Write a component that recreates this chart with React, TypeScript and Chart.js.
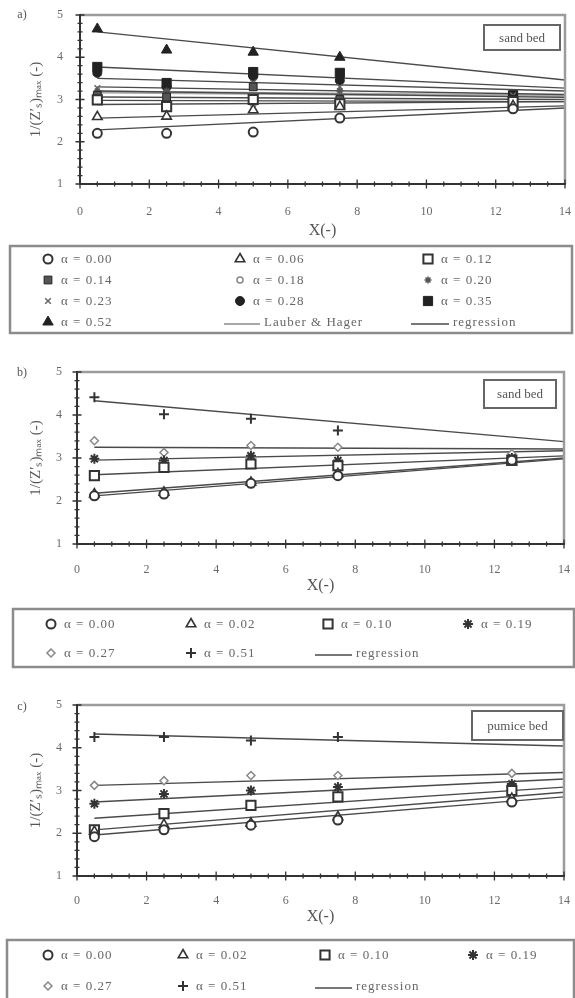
import React, { useEffect, useRef } from 'react';
import { Chart, registerables } from 'chart.js';

Chart.register(...registerables);

const FONT = '"Liberation Serif", "Times New Roman", serif';

// ---------- data ----------
const X_POS = [0.5, 2.5, 5, 7.5, 12.5];
const X_REG = [0.5, 14];
const X_MIN = 0;
const X_MAX = 14;
const Y_MIN = 1;
const Y_MAX = 5;

// panel a) sand bed
const A_ALPHA = ['0.00', '0.06', '0.12', '0.14', '0.18', '0.20', '0.23', '0.28', '0.35', '0.52'];
const A_P000 = [2.2, 2.2, 2.23, 2.56, 2.78];
const A_P006 = [2.59, 2.6, 2.75, 2.83, 2.85];
const A_P012 = [2.99, 2.83, 3.0, 2.9, 2.95];
const A_P014 = [3.1, 3.06, 3.3, 3.0, 3.0];
const A_P018 = [3.05, 2.95, 2.9, 3.0, 2.9];
const A_P020 = [3.2, 3.2, 3.3, 3.2, 3.05];
const A_P023 = [3.27, 3.15, 3.4, 3.3, 3.1];
const A_P028 = [3.63, 3.3, 3.55, 3.45, 3.05];
const A_P035 = [3.77, 3.39, 3.65, 3.63, 3.1];
const A_P052 = [4.67, 4.17, 4.12, 4.0, null];
const A_R000 = [2.28, 2.8];
const A_R006 = [2.56, 2.85];
const A_R012 = [2.88, 2.95];
const A_R014 = [2.98, 2.95];
const A_R018 = [3.06, 3.0];
const A_R020 = [3.2, 3.05];
const A_R023 = [3.3, 3.12];
const A_R028 = [3.5, 3.2];
const A_R035 = [3.77, 3.27];
const A_R052 = [4.6, 3.46];
const A_LAUBER = [3.18, 3.08];

// panel b) sand bed
const B_ALPHA = ['0.00', '0.02', '0.10', '0.19', '0.27', '0.51'];
const B_P000 = [2.12, 2.16, 2.41, 2.59, 2.95];
const B_P002 = [2.16, 2.2, 2.43, 2.63, 2.9];
const B_P010 = [2.59, 2.78, 2.86, 2.82, 2.95];
const B_P019 = [2.98, 2.94, 3.05, 2.94, 3.0];
const B_P027 = [3.4, 3.13, 3.29, 3.25, 3.1];
const B_P051 = [4.41, 4.02, 3.91, 3.64, null];
const B_R000 = [2.12, 2.98];
const B_R002 = [2.18, 3.0];
const B_R010 = [2.61, 3.05];
const B_R019 = [2.95, 3.17];
const B_R027 = [3.25, 3.21];
const B_R051 = [4.33, 3.38];

// panel c) pumice bed
const C_ALPHA = ['0.00', '0.02', '0.10', '0.19', '0.27', '0.51'];
const C_P000 = [1.92, 2.08, 2.19, 2.31, 2.73];
const C_P002 = [2.04, 2.2, 2.23, 2.38, 2.81];
const C_P010 = [2.08, 2.46, 2.65, 2.85, 3.0];
const C_P019 = [2.69, 2.92, 3.0, 3.08, 3.15];
const C_P027 = [3.12, 3.23, 3.35, 3.35, 3.4];
const C_P051 = [4.25, 4.25, 4.17, 4.25, null];
const C_R000 = [1.96, 2.85];
const C_R002 = [2.08, 2.96];
const C_R010 = [2.35, 3.08];
const C_R019 = [2.73, 3.27];
const C_R027 = [3.12, 3.42];
const C_R051 = [4.32, 4.04];

// ---------- styles ----------
type Marker = { style: string; r: number; bg: string; bc: string; bw: number };
const MK: Record<string, Marker> = {
  openCircle: { style: 'circle', r: 4.5, bg: '#fff', bc: '#333', bw: 2 },
  openTriangle: { style: 'triangle', r: 5.5, bg: '#fff', bc: '#333', bw: 1.6 },
  openSquare: { style: 'rect', r: 6.5, bg: '#fff', bc: '#333', bw: 2 },
  barSquare: { style: 'rect', r: 5.5, bg: '#555', bc: '#222', bw: 1 },
  smallCircle: { style: 'circle', r: 3, bg: '#fff', bc: '#888', bw: 1.5 },
  smallStar: { style: 'star', r: 3.5, bg: '#555', bc: '#555', bw: 1.5 },
  xCross: { style: 'crossRot', r: 4, bg: '#666', bc: '#666', bw: 1.5 },
  fullCircle: { style: 'circle', r: 4.5, bg: '#222', bc: '#222', bw: 1 },
  fullSquare: { style: 'rect', r: 6.5, bg: '#222', bc: '#222', bw: 1 },
  fullTriangle: { style: 'triangle', r: 6, bg: '#222', bc: '#222', bw: 1 },
  boldStar: { style: 'star', r: 5, bg: '#333', bc: '#333', bw: 2 },
  diamond: { style: 'rectRot', r: 4, bg: '#fff', bc: '#888', bw: 1.5 },
  plus: { style: 'cross', r: 5, bg: '#333', bc: '#333', bw: 2 },
};

type Series = { alpha: string; pts: (number | null)[]; reg: number[]; mk: Marker };
type LegendItem =
  | { kind: 'marker'; mk: Marker; x: number; y: number; text: string }
  | { kind: 'line'; color: string; width: number; x1: number; x2: number; y: number; text: string };

type PanelCfg = {
  top: number;
  height: number;
  padTop: number;
  padRight: number;
  padBottom: number;
  yWidth: number;
  yTickPad: number;
  xTickPad: number;
  xTitlePad: number;
  letter: string;
  letterPos: [number, number];
  bed: string;
  bedBox: [number, number, number, number];
  series: Series[];
  extraLine?: { label: string; vals: number[]; color: string; width: number };
  legendBox: [number, number, number, number];
  legend: LegendItem[];
};

const alphaText = (a: string) => 'α = ' + a;

const A_SERIES: Series[] = [
  { alpha: A_ALPHA[0], pts: A_P000, reg: A_R000, mk: MK.openCircle },
  { alpha: A_ALPHA[1], pts: A_P006, reg: A_R006, mk: MK.openTriangle },
  { alpha: A_ALPHA[2], pts: A_P012, reg: A_R012, mk: MK.openSquare },
  { alpha: A_ALPHA[3], pts: A_P014, reg: A_R014, mk: MK.barSquare },
  { alpha: A_ALPHA[4], pts: A_P018, reg: A_R018, mk: MK.smallCircle },
  { alpha: A_ALPHA[5], pts: A_P020, reg: A_R020, mk: MK.smallStar },
  { alpha: A_ALPHA[6], pts: A_P023, reg: A_R023, mk: MK.xCross },
  { alpha: A_ALPHA[7], pts: A_P028, reg: A_R028, mk: MK.fullCircle },
  { alpha: A_ALPHA[8], pts: A_P035, reg: A_R035, mk: MK.fullSquare },
  { alpha: A_ALPHA[9], pts: A_P052, reg: A_R052, mk: MK.fullTriangle },
];

const B_SERIES: Series[] = [
  { alpha: B_ALPHA[0], pts: B_P000, reg: B_R000, mk: MK.openCircle },
  { alpha: B_ALPHA[1], pts: B_P002, reg: B_R002, mk: MK.openTriangle },
  { alpha: B_ALPHA[2], pts: B_P010, reg: B_R010, mk: MK.openSquare },
  { alpha: B_ALPHA[3], pts: B_P019, reg: B_R019, mk: MK.boldStar },
  { alpha: B_ALPHA[4], pts: B_P027, reg: B_R027, mk: MK.diamond },
  { alpha: B_ALPHA[5], pts: B_P051, reg: B_R051, mk: MK.plus },
];

const C_SERIES: Series[] = [
  { alpha: C_ALPHA[0], pts: C_P000, reg: C_R000, mk: MK.openCircle },
  { alpha: C_ALPHA[1], pts: C_P002, reg: C_R002, mk: MK.openTriangle },
  { alpha: C_ALPHA[2], pts: C_P010, reg: C_R010, mk: MK.openSquare },
  { alpha: C_ALPHA[3], pts: C_P019, reg: C_R019, mk: MK.boldStar },
  { alpha: C_ALPHA[4], pts: C_P027, reg: C_R027, mk: MK.diamond },
  { alpha: C_ALPHA[5], pts: C_P051, reg: C_R051, mk: MK.plus },
];

const REG_COLOR = '#4a4a4a';
const LAUBER_COLOR = '#a8a8a8';

function gridLegend(series: Series[], cols: number[], rows: number[], lines: { text: string; color: string; width: number; x1: number; x2: number; slot: number }[]): LegendItem[] {
  const items: LegendItem[] = [];
  series.forEach((s, i) => {
    const c = i % cols.length;
    const r = Math.floor(i / cols.length);
    items.push({ kind: 'marker', mk: s.mk, x: cols[c], y: rows[r], text: alphaText(s.alpha) });
  });
  lines.forEach((l) => {
    const r = Math.floor(l.slot / cols.length);
    items.push({ kind: 'line', color: l.color, width: l.width, x1: l.x1, x2: l.x2, y: rows[r], text: l.text });
  });
  return items;
}

const PANELS: PanelCfg[] = [
  {
    top: 0, height: 340, padTop: 15, padRight: 10, padBottom: 96, yWidth: 80, yTickPad: 17, xTickPad: 21, xTitlePad: 4,
    letter: 'a)', letterPos: [22, 15], bed: 'sand bed', bedBox: [484, 25, 560, 50],
    series: A_SERIES,
    extraLine: { label: 'Lauber & Hager', vals: A_LAUBER, color: LAUBER_COLOR, width: 3 },
    legendBox: [10, 246, 572, 333],
    legend: gridLegend(A_SERIES, [48, 240, 428], [259, 280, 301, 322], [
      { text: 'Lauber & Hager', color: LAUBER_COLOR, width: 2, x1: 224, x2: 260, slot: 10 },
      { text: 'regression', color: REG_COLOR, width: 1.5, x1: 411, x2: 449, slot: 11 },
    ]),
  },
  {
    top: 340, height: 330, padTop: 32, padRight: 11, padBottom: 66, yWidth: 77, yTickPad: 15, xTickPad: 19, xTitlePad: 9,
    letter: 'b)', letterPos: [22, 33], bed: 'sand bed', bedBox: [484, 40, 556, 68],
    series: B_SERIES,
    legendBox: [13, 269, 574, 327],
    legend: gridLegend(B_SERIES, [51, 191, 328, 468], [284, 313], [
      { text: 'regression', color: REG_COLOR, width: 1.5, x1: 315, x2: 352, slot: 6 },
    ]),
  },
  {
    top: 670, height: 328, padTop: 35, padRight: 11, padBottom: 62, yWidth: 77, yTickPad: 15, xTickPad: 18, xTitlePad: 10,
    letter: 'c)', letterPos: [22, 37], bed: 'pumice bed', bedBox: [472, 41, 563, 70],
    series: C_SERIES,
    legendBox: [7, 270, 574, 340],
    legend: gridLegend(C_SERIES, [48, 183, 325, 473], [285, 316], [
      { text: 'regression', color: REG_COLOR, width: 1.5, x1: 315, x2: 352, slot: 6 },
    ]),
  },
];

// ---------- drawing helpers ----------
function drawMarker(ctx: CanvasRenderingContext2D, mk: Marker, x: number, y: number) {
  const r = mk.r;
  ctx.save();
  ctx.fillStyle = mk.bg;
  ctx.strokeStyle = mk.bc;
  ctx.lineWidth = mk.bw;
  ctx.beginPath();
  switch (mk.style) {
    case 'circle':
      ctx.arc(x, y, r, 0, Math.PI * 2);
      ctx.closePath();
      ctx.fill();
      ctx.stroke();
      break;
    case 'triangle':
      ctx.moveTo(x, y - r);
      ctx.lineTo(x + Math.sin((2 * Math.PI) / 3) * r, y + 0.5 * r);
      ctx.lineTo(x - Math.sin((2 * Math.PI) / 3) * r, y + 0.5 * r);
      ctx.closePath();
      ctx.fill();
      ctx.stroke();
      break;
    case 'rect': {
      const s = Math.SQRT1_2 * r;
      ctx.rect(x - s, y - s, 2 * s, 2 * s);
      ctx.fill();
      ctx.stroke();
      break;
    }
    case 'rectRot':
      ctx.moveTo(x, y - r);
      ctx.lineTo(x + r, y);
      ctx.lineTo(x, y + r);
      ctx.lineTo(x - r, y);
      ctx.closePath();
      ctx.fill();
      ctx.stroke();
      break;
    case 'cross':
      ctx.moveTo(x - r, y);
      ctx.lineTo(x + r, y);
      ctx.moveTo(x, y - r);
      ctx.lineTo(x, y + r);
      ctx.stroke();
      break;
    case 'crossRot': {
      const d = Math.SQRT1_2 * r;
      ctx.moveTo(x - d, y - d);
      ctx.lineTo(x + d, y + d);
      ctx.moveTo(x - d, y + d);
      ctx.lineTo(x + d, y - d);
      ctx.stroke();
      break;
    }
    case 'star': {
      const d = Math.SQRT1_2 * r;
      ctx.moveTo(x - r, y);
      ctx.lineTo(x + r, y);
      ctx.moveTo(x, y - r);
      ctx.lineTo(x, y + r);
      ctx.moveTo(x - d, y - d);
      ctx.lineTo(x + d, y + d);
      ctx.moveTo(x - d, y + d);
      ctx.lineTo(x + d, y - d);
      ctx.stroke();
      break;
    }
  }
  ctx.restore();
}

function decorPlugin(cfg: PanelCfg) {
  return {
    id: 'decor',
    afterDatasetsDraw(chart: any) {
      const ctx: CanvasRenderingContext2D = chart.ctx;
      const a = chart.chartArea;
      const xs = chart.scales.x;
      const ys = chart.scales.y;
      ctx.save();
      // frame (top/right)
      ctx.strokeStyle = '#9c9c9c';
      ctx.lineWidth = 2.5;
      ctx.beginPath();
      ctx.moveTo(a.left, a.top);
      ctx.lineTo(a.right, a.top);
      ctx.lineTo(a.right, a.bottom);
      ctx.stroke();
      // axes
      ctx.strokeStyle = '#333';
      ctx.lineWidth = 2;
      ctx.beginPath();
      ctx.moveTo(a.left, a.top - 1);
      ctx.lineTo(a.left, a.bottom);
      ctx.lineTo(a.right + 1, a.bottom);
      ctx.stroke();
      // ticks crossing the axes
      ctx.lineWidth = 1.3;
      ctx.beginPath();
      for (let i = 0; i <= (Y_MAX - Y_MIN) * 5; i++) {
        const v = Y_MIN + i * 0.2;
        const y = ys.getPixelForValue(v);
        const len = i % 5 === 0 ? 4.5 : 2.5;
        ctx.moveTo(a.left - len, y);
        ctx.lineTo(a.left + len, y);
      }
      for (let i = 0; i <= (X_MAX - X_MIN) * 2; i++) {
        const v = X_MIN + i * 0.5;
        const x = xs.getPixelForValue(v);
        const len = i % 4 === 0 ? 4.5 : 2.5;
        ctx.moveTo(x, a.bottom - len);
        ctx.lineTo(x, a.bottom + len);
      }
      ctx.stroke();
      // bed label box
      const [bl, bt, br, bb] = cfg.bedBox;
      ctx.fillStyle = '#fff';
      ctx.fillRect(bl, bt, br - bl, bb - bt);
      ctx.strokeStyle = '#666';
      ctx.lineWidth = 2;
      ctx.strokeRect(bl, bt, br - bl, bb - bt);
      ctx.fillStyle = '#555';
      ctx.font = '13px ' + FONT;
      ctx.textAlign = 'center';
      ctx.textBaseline = 'middle';
      ctx.fillText(cfg.bed, (bl + br) / 2, (bt + bb) / 2 + 1);
      // panel letter
      ctx.fillStyle = '#555';
      ctx.font = '12px ' + FONT;
      ctx.fillText(cfg.letter, cfg.letterPos[0], cfg.letterPos[1]);
      // legend box
      const [ll, lt, lr, lb] = cfg.legendBox;
      ctx.strokeStyle = '#8c8c8c';
      ctx.lineWidth = 2.5;
      ctx.strokeRect(ll, lt, lr - ll, lb - lt);
      ctx.font = '13px ' + FONT;
      (ctx as any).letterSpacing = '1px';
      ctx.textAlign = 'left';
      ctx.textBaseline = 'middle';
      cfg.legend.forEach((it) => {
        if (it.kind === 'marker') {
          drawMarker(ctx, it.mk, it.x, it.y);
          ctx.fillStyle = '#666';
          ctx.fillText(it.text, it.x + 13, it.y + 1);
        } else {
          ctx.strokeStyle = it.color;
          ctx.lineWidth = it.width;
          ctx.beginPath();
          ctx.moveTo(it.x1, it.y + 2);
          ctx.lineTo(it.x2, it.y + 2);
          ctx.stroke();
          ctx.fillStyle = '#666';
          ctx.fillText(it.text, it.x2 + 4, it.y + 1);
        }
      });
      ctx.restore();
    },
  };
}

// invisible tick marks: they only offset the labels, without changing the chart area
const hiddenGrid = (len: number) => ({
  display: true,
  drawOnChartArea: false,
  drawTicks: true,
  tickLength: len,
  color: 'rgba(0,0,0,0)',
});

function Panel({ cfg }: { cfg: PanelCfg }) {
  const ref = useRef<HTMLCanvasElement>(null);
  useEffect(() => {
    if (!ref.current) return;
    const datasets: any[] = [];
    if (cfg.extraLine) {
      datasets.push({
        label: cfg.extraLine.label,
        data: X_REG.map((x, i) => ({ x, y: cfg.extraLine!.vals[i] })),
        showLine: true,
        borderColor: cfg.extraLine.color,
        borderWidth: cfg.extraLine.width,
        pointRadius: 0,
        order: 3,
      });
    }
    cfg.series.forEach((s) => {
      datasets.push({
        label: 'regression ' + s.alpha,
        data: X_REG.map((x, i) => ({ x, y: s.reg[i] })),
        showLine: true,
        borderColor: REG_COLOR,
        borderWidth: 1.4,
        pointRadius: 0,
        order: 2,
      });
    });
    cfg.series.forEach((s) => {
      datasets.push({
        label: alphaText(s.alpha),
        data: X_POS.map((x, i) => ({ x, y: s.pts[i] })).filter((p) => p.y !== null),
        showLine: false,
        pointStyle: s.mk.style,
        pointRadius: s.mk.r,
        pointBackgroundColor: s.mk.bg,
        pointBorderColor: s.mk.bc,
        pointBorderWidth: s.mk.bw,
        order: 1,
      });
    });
    const chart = new Chart(ref.current, {
      type: 'scatter',
      data: { datasets },
      options: {
        animation: false,
        responsive: false,
        devicePixelRatio: 1,
        layout: { autoPadding: false, padding: { left: 0, top: cfg.padTop, right: cfg.padRight, bottom: cfg.padBottom } },
        plugins: { legend: { display: false }, tooltip: { enabled: false } },
        scales: {
          x: {
            type: 'linear',
            min: X_MIN,
            max: X_MAX,
            grid: hiddenGrid(cfg.xTickPad),
            border: { display: false },
            ticks: { stepSize: 2, padding: 0, color: '#6a6a6a', font: { family: FONT, size: 12 }, maxRotation: 0 },
            title: { display: true, text: 'X(-)', color: '#555', font: { family: FONT, size: 16 }, padding: { top: 0, bottom: cfg.xTitlePad } },
            afterFit: (s: any) => { s.height = 60; },
          },
          y: {
            type: 'linear',
            min: Y_MIN,
            max: Y_MAX,
            grid: hiddenGrid(cfg.yTickPad),
            border: { display: false },
            ticks: { stepSize: 1, padding: 0, color: '#6a6a6a', font: { family: FONT, size: 12 } },
            title: { display: true, text: '1/(Z′ₛ)ₘₐₓ (-)', color: '#555', font: { family: FONT, size: 15 }, padding: { top: 27, bottom: 0 } },
            afterFit: (s: any) => { s.width = cfg.yWidth; },
          },
        },
      } as any,
      plugins: [decorPlugin(cfg)],
    });
    return () => chart.destroy();
  }, [cfg]);
  return (
    <canvas
      ref={ref}
      width={575}
      height={cfg.height}
      style={{ position: 'absolute', left: 0, top: cfg.top, width: 575, height: cfg.height, display: 'block' }}
    />
  );
}

export default function App() {
  return (
    <div style={{ position: 'absolute', left: 0, top: 0, width: 575, height: 998, background: '#fff', overflow: 'hidden' }}>
      {PANELS.map((p, i) => (
        <Panel key={i} cfg={p} />
      ))}
    </div>
  );
}
